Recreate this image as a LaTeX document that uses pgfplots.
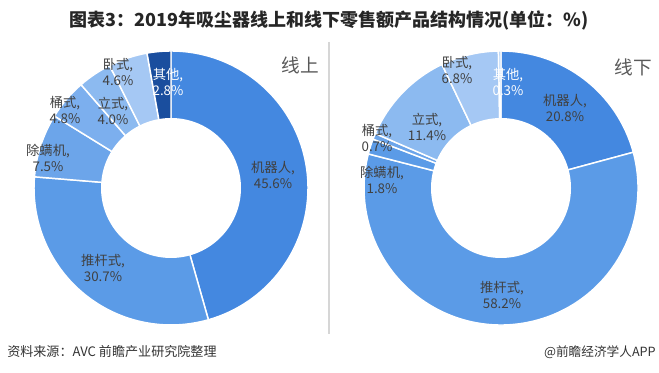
\documentclass[border=0pt]{standalone}
\usepackage{pgfplots}
\pgfplotsset{compat=1.18}
\usepackage{fontspec}
\setmainfont{Noto Sans CJK SC}
\definecolor{cA}{HTML}{4488E0}
\definecolor{cB}{HTML}{5B9BE7}
\definecolor{cC}{HTML}{6CA5EA}
\definecolor{cD}{HTML}{7CAFEE}
\definecolor{cE}{HTML}{8CBAF0}
\definecolor{cF}{HTML}{A5C8F4}
\definecolor{cG}{HTML}{1A4E9E}
\definecolor{cH}{HTML}{B5D3F6}
\definecolor{txt}{HTML}{404040}
\definecolor{divc}{HTML}{D6D6D6}
\tikzset{lbl/.style={font=\fontsize{10}{12.5}\selectfont, text=txt, align=center, inner sep=0pt}}
% #1 cx, #2 cy, #3 cumulative start (%), #4 value (%), #5 colour
\newcommand{\slice}[5]{%
  \fill[#5, draw=white, line width=1.1pt] (axis cs:#1,#2) -- ++({90-3.6*#3}:102.75pt)
    arc[start angle={90-3.6*#3}, delta angle={-3.6*#4}, radius=102.75pt] -- cycle;}
\begin{document}
\begin{tikzpicture}
\path[use as bounding box] (0,0) rectangle (494.25pt,279.75pt);
\begin{axis}[x=0.75pt, y=0.75pt, xmin=0, xmax=659, ymin=0, ymax=373,
  hide axis, clip=false, at={(0,0)}, anchor=south west]
% left donut: online
\slice{171}{185}{0}{45.6}{cA}
\slice{171}{185}{45.6}{30.7}{cB}
\slice{171}{185}{76.3}{7.5}{cC}
\slice{171}{185}{83.8}{4.8}{cD}
\slice{171}{185}{88.6}{4.0}{cE}
\slice{171}{185}{92.6}{4.6}{cF}
\slice{171}{185}{97.2}{2.8}{cG}
\fill[white] (axis cs:171,185) circle[radius=52.5pt];
% right donut: offline
\slice{501}{185}{0}{20.8}{cA}
\slice{501}{185}{20.8}{58.2}{cB}
\slice{501}{185}{79.0}{1.8}{cB}
\slice{501}{185}{80.8}{0.7}{cC}
\slice{501}{185}{81.5}{11.4}{cE}
\slice{501}{185}{92.9}{6.8}{cF}
\slice{501}{185}{99.7}{0.3}{cH}
\fill[white] (axis cs:501,185) circle[radius=52.5pt];
% divider
\draw[divc, line width=0.8pt] (axis cs:329,331) -- (axis cs:329,39);
% labels left
\node[lbl] at (axis cs:273,198) {机器人,\\45.6\%};
\node[lbl] at (axis cs:103,105) {推杆式,\\30.7\%};
\node[lbl] at (axis cs:48,215) {除螨机,\\7.5\%};
\node[lbl] at (axis cs:65,263) {桶式,\\4.8\%};
\node[lbl] at (axis cs:113,262) {立式,\\4.0\%};
\node[lbl] at (axis cs:118,301) {卧式,\\4.6\%};
\node[lbl, text=white] at (axis cs:168,291) {其他,\\2.8\%};
% labels right
\node[lbl] at (axis cs:565,265) {机器人,\\20.8\%};
\node[lbl] at (axis cs:502,78) {推杆式,\\58.2\%};
\node[lbl] at (axis cs:382,193) {除螨机,\\1.8\%};
\node[lbl] at (axis cs:377,235) {桶式,\\0.7\%};
\node[lbl] at (axis cs:427,246) {立式,\\11.4\%};
\node[lbl] at (axis cs:457,303) {卧式,\\6.8\%};
\node[lbl, text=white] at (axis cs:508,291) {其他,\\0.3\%};
% panel titles
\node[font=\fontsize{14}{16}\selectfont, text={black!65}, inner sep=0pt] at (axis cs:300,308) {线上};
\node[font=\fontsize{14}{16}\selectfont, text={black!65}, inner sep=0pt] at (axis cs:633,306) {线下};
% title and footer
\node[font=\fontsize{13.5}{15}\selectfont\bfseries, text={black!85}, inner sep=0pt] at (axis cs:329,353) {图表3：2019年吸尘器线上和线下零售额产品结构情况(单位：\%)};
\node[font=\fontsize{9.8}{11}\selectfont, text={black!80}, anchor=west, inner sep=0pt] at (axis cs:7,21) {资料来源：AVC 前瞻产业研究院整理};
\node[font=\fontsize{9.5}{11}\selectfont, text={black!80}, anchor=east, inner sep=0pt] at (axis cs:656,21) {@前瞻经济学人APP};
\end{axis}
\end{tikzpicture}
\end{document}
